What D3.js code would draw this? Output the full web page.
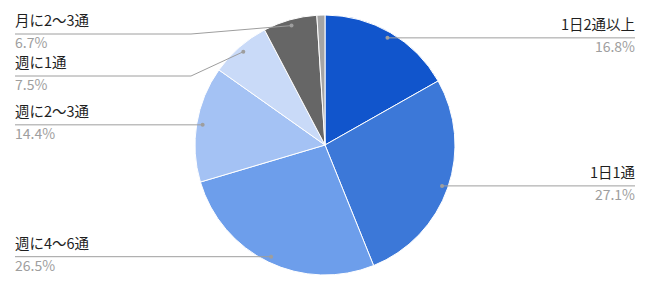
<!DOCTYPE html>
<html>
<head>
<meta charset="utf-8">
<script src="https://cdn.jsdelivr.net/npm/d3@7"></script>
<style>
  body { margin: 0; background: #fff; }
  text { font-family: "Noto Sans CJK JP", "Noto Sans", sans-serif; }
</style>
</head>
<body>
<div id="chart"></div>
<script>
// data
var categories = ["1日2通以上", "1日1通", "週に4〜6通", "週に2〜3通", "週に1通", "月に2〜3通", "その他"];
var shares = [16.8, 27.1, 26.5, 14.4, 7.5, 6.7, 1.0];
var colors = ["#1155cc", "#3c78d8", "#6d9eeb", "#a4c2f4", "#c9daf8", "#666666", "#a5a5a5"];

var width = 650, height = 291;
var cx = 325, cy = 145, radius = 130;
var dotRadius = 124;
var labelGap = 42, labelTop = 34;

var svg = d3.select("#chart").append("svg").attr("width", width).attr("height", height);

var slices = categories.map(function(c, i) { return { name: c, value: shares[i], color: colors[i] }; });

var pie = d3.pie().sort(null).value(d => d.value);
var arcs = pie(slices);
var arc = d3.arc().innerRadius(0).outerRadius(radius);

var g = svg.append("g").attr("transform", `translate(${cx},${cy})`);

g.selectAll("path.slice")
  .data(arcs)
  .enter()
  .append("path")
  .attr("class", "slice")
  .attr("d", arc)
  .attr("fill", d => d.data.color)
  .attr("stroke", "#fff")
  .attr("stroke-width", 1);

// labels: dots at mid angle, tiny slices left unlabelled
var labelled = arcs.filter(d => d.data.value >= 2).map(function(d) {
  var a = (d.startAngle + d.endAngle) / 2;
  return {
    d: d,
    x: cx + dotRadius * Math.sin(a),
    y: cy - dotRadius * Math.cos(a),
    right: Math.sin(a) >= 0
  };
});

// push labels apart on each side
[true, false].forEach(function(side) {
  var list = labelled.filter(l => l.right === side).sort((a, b) => a.y - b.y);
  var prev = -Infinity;
  list.forEach(function(l) {
    l.ly = Math.max(l.y, labelTop, prev + labelGap);
    prev = l.ly;
  });
});

var leftX = 15, rightX = 635, elbow = 191;

var lab = svg.selectAll("g.label")
  .data(labelled)
  .enter()
  .append("g")
  .attr("class", "label");

lab.append("polyline")
  .attr("points", function(l) {
    if (l.right) return [[l.x, l.y], [rightX, l.ly]].join(" ");
    if (Math.abs(l.ly - l.y) < 1) return [[l.x, l.y], [leftX, l.ly]].join(" ");
    return [[l.x, l.y], [elbow, l.ly], [leftX, l.ly]].join(" ");
  })
  .attr("fill", "none")
  .attr("stroke", "#9e9e9e")
  .attr("stroke-width", 1);

lab.append("circle")
  .attr("cx", l => l.x)
  .attr("cy", l => l.y)
  .attr("r", 2)
  .attr("fill", "#9e9e9e");

lab.append("text")
  .attr("x", l => l.right ? rightX : leftX)
  .attr("y", l => l.ly - 8)
  .attr("text-anchor", l => l.right ? "end" : "start")
  .attr("font-size", 14.5)
  .attr("fill", "#1f1f1f")
  .text(l => l.d.data.name);

lab.append("text")
  .attr("x", l => l.right ? rightX : leftX)
  .attr("y", l => l.ly + 14)
  .attr("text-anchor", l => l.right ? "end" : "start")
  .attr("font-size", 14)
  .attr("fill", "#9e9e9e")
  .text(l => d3.format(".1f")(l.d.data.value) + "%");
</script>
</body>
</html>
